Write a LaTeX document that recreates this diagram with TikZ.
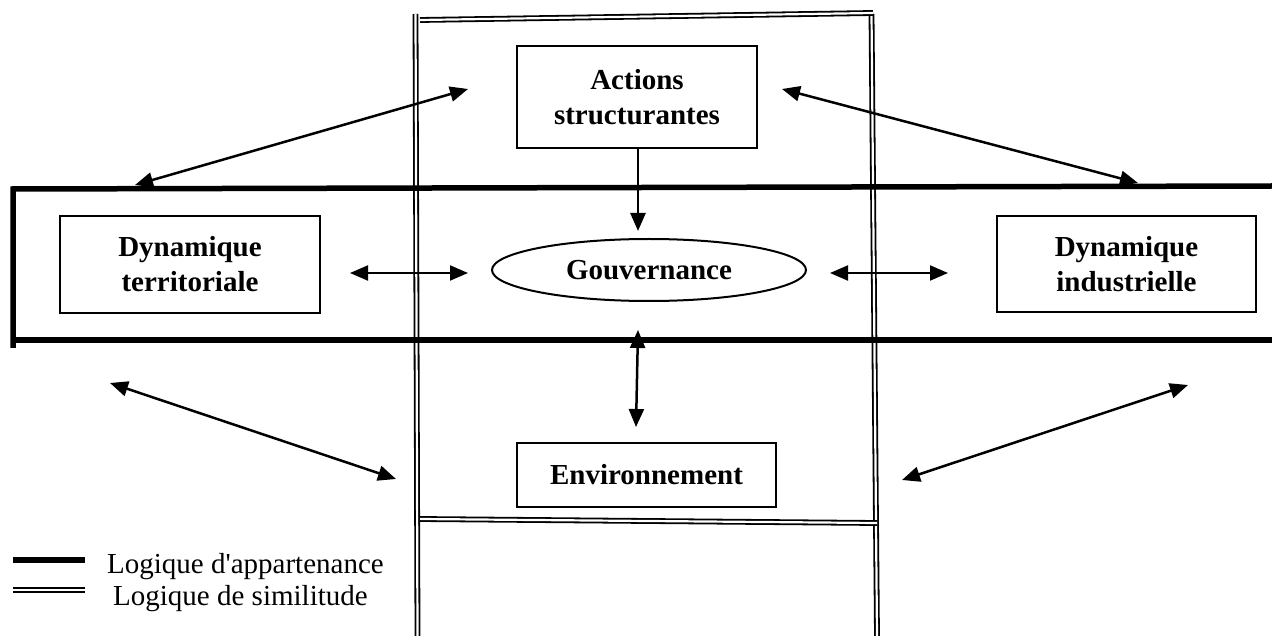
\documentclass[tikz,border=0pt]{standalone}
\usepackage{fontspec}
\setmainfont{Liberation Serif}[Ligatures=TeXOff]
\usetikzlibrary{arrows.meta,shapes.geometric}
\begin{document}
\begin{tikzpicture}[x=1pt,y=-1pt,
  box/.style={draw,line width=2pt,inner sep=0pt,align=center,font=\fontsize{29}{35}\selectfont\bfseries},
  band/.style={line width=5.5pt},
  simil/.style={double,double distance=2.2pt,line width=1.8pt},
  link/.style={line width=2.5pt,{Triangle[length=18pt,width=15pt]}-{Triangle[length=18pt,width=15pt]}},
  linkone/.style={line width=2.5pt,-{Triangle[length=18pt,width=15pt]}},
  legend/.style={anchor=base west,inner sep=0pt,font=\fontsize{29}{34}\selectfont}]
\useasboundingbox (0,0) rectangle (1272,636);
% similitude frame (double lines)
\draw[simil] (415.5,14) -- (417.5,636);
\draw[simil] (871.5,14) -- (877,636);
\draw[simil] (420,20) -- (873,13);
\draw[simil] (420,519) -- (877,523);
% appartenance band (thick lines)
\draw[band] (1272,186) -- (13,189) -- (13,348);
\draw[band] (13,340) -- (1272,340);
% nodes
\node[box,minimum width=240pt,minimum height=102pt] (act) at (637,97) {Actions\\structurantes};
\node[box,minimum width=260pt,minimum height=97pt] (dynt) at (190,264.5) {Dynamique\\territoriale};
\node[box,minimum width=259pt,minimum height=96pt] (dyni) at (1126.5,264) {Dynamique\\industrielle};
\node[box,ellipse,minimum width=314pt,minimum height=62pt] (gov) at (649,270) {Gouvernance};
\node[box,minimum width=259pt,minimum height=64pt] (env) at (646.5,475) {Environnement};
% arrow end points
\coordinate (tl1) at (135,185); \coordinate (tl2) at (468,89);
\coordinate (tr1) at (782,89); \coordinate (tr2) at (1138,183);
\coordinate (ag) at (638,231);
\coordinate (ge1) at (638,330); \coordinate (ge2) at (636,427);
\coordinate (hl1) at (350,273); \coordinate (hl2) at (468,273);
\coordinate (hr1) at (830,273); \coordinate (hr2) at (948,273);
\coordinate (bl1) at (110,383); \coordinate (bl2) at (396,479);
\coordinate (br1) at (902,480); \coordinate (br2) at (1188,385);
% connectors
\draw[link] (tl1) -- (tl2);
\draw[link] (tr1) -- (tr2);
\draw[linkone] (act.south -| ag) -- (ag);
\draw[link] (ge1) -- (ge2);
\draw[link,line width=2pt] (hl1) -- (hl2);
\draw[link,line width=2pt] (hr1) -- (hr2);
\draw[link] (bl1) -- (bl2);
\draw[link] (br1) -- (br2);
% legend
\coordinate (lg1a) at (13,560); \coordinate (lg1b) at (85,560);
\coordinate (lg2a) at (13,590); \coordinate (lg2b) at (85,590);
\draw[band] (lg1a) -- (lg1b);
\draw[simil] (lg2a) -- (lg2b);
\node[legend] (lgt1) at (107,573) {Logique d'appartenance};
\node[legend] (lgt2) at (113,605) {Logique de similitude};
\end{tikzpicture}
\end{document}
